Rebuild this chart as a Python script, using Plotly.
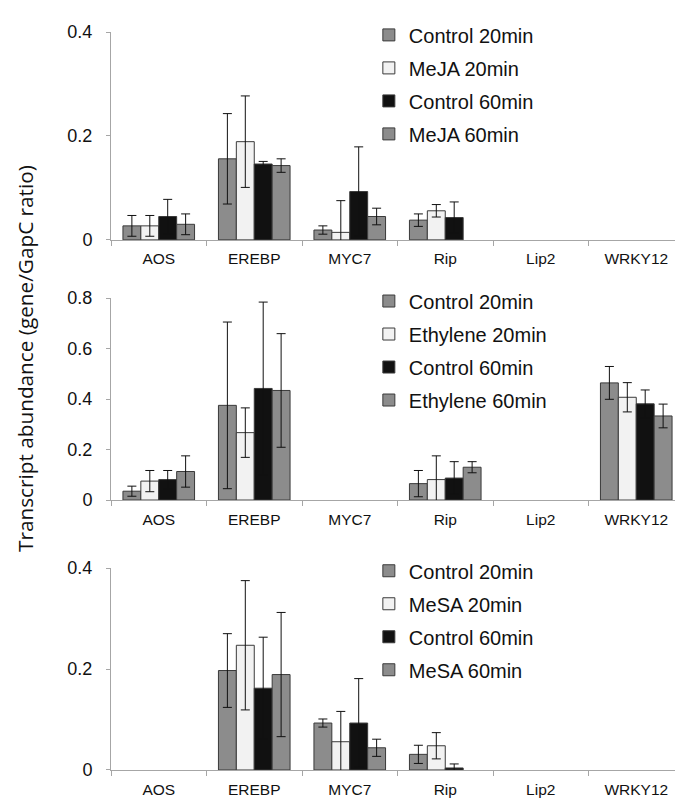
import plotly.graph_objects as go

genes = ["AOS", "EREBP", "MYC7", "Rip", "Lip2", "WRKY12"]

# panel 1 - MeJA
meja_names = ["Control 20min", "MeJA 20min", "Control 60min", "MeJA 60min"]
meja_vals = [
    [0.027, 0.156, 0.019, 0.038, 0, 0],
    [0.027, 0.189, 0.0145, 0.056, 0, 0],
    [0.045, 0.146, 0.093, 0.043, 0, 0],
    [0.030, 0.143, 0.045, 0, 0, 0],
]
meja_err = [
    [0.020, 0.087, 0.008, 0.012, 0, 0],
    [0.020, 0.088, 0.061, 0.012, 0, 0],
    [0.033, 0.005, 0.086, 0.030, 0, 0],
    [0.020, 0.013, 0.016, 0, 0, 0],
]

# panel 2 - Ethylene
eth_names = ["Control 20min", "Ethylene 20min", "Control 60min", "Ethylene 60min"]
eth_vals = [
    [0.035, 0.375, 0, 0.065, 0, 0.464],
    [0.075, 0.267, 0, 0.081, 0, 0.407],
    [0.081, 0.442, 0, 0.087, 0, 0.381],
    [0.113, 0.434, 0, 0.130, 0, 0.333],
]
eth_err = [
    [0.020, 0.330, 0, 0.052, 0, 0.065],
    [0.042, 0.098, 0, 0.094, 0, 0.058],
    [0.036, 0.342, 0, 0.065, 0, 0.055],
    [0.062, 0.225, 0, 0.022, 0, 0.047],
]

# panel 3 - MeSA
mesa_names = ["Control 20min", "MeSA 20min", "Control 60min", "MeSA 60min"]
mesa_vals = [
    [0, 0.197, 0.093, 0.031, 0, 0],
    [0, 0.247, 0.056, 0.048, 0, 0],
    [0, 0.162, 0.093, 0.004, 0, 0],
    [0, 0.189, 0.044, 0, 0, 0],
]
mesa_err = [
    [0, 0.073, 0.008, 0.018, 0, 0],
    [0, 0.128, 0.060, 0.026, 0, 0],
    [0, 0.101, 0.088, 0.008, 0, 0],
    [0, 0.123, 0.017, 0, 0, 0],
]

y_ranges = [0.4, 0.8, 0.4]

fills = ["#8c8c8c", "#f2f2f2", "#111111", "#8c8c8c"]
FONT = "Arial, Liberation Sans, sans-serif"

fig = go.Figure()

panels = [
    (meja_names, meja_vals, meja_err),
    (eth_names, eth_vals, eth_err),
    (mesa_names, mesa_vals, mesa_err),
]
for p, (names, vals, errs) in enumerate(panels):
    sfx = "" if p == 0 else str(p + 1)
    for i in range(4):
        # zero values are left empty (nothing drawn on the baseline)
        yv = [v if v > 0 else None for v in vals[i]]
        err = [e if e > 0 else None for e in errs[i]]
        fig.add_trace(go.Bar(
            x=genes, y=yv, name=names[i],
            xaxis="x" + sfx, yaxis="y" + sfx,
            legend="legend" + sfx, legendgroup=f"p{p}s{i}",
            offsetgroup=str(i),
            marker=dict(color=fills[i], line=dict(color="#3a3a3a", width=1)),
            error_y=dict(type="data", array=err, visible=True,
                         color="#111111", thickness=1, width=4.5),
        ))

domains = [[0.7183, 1.0], [0.3658, 0.6395], [0.0, 0.2737]]
legend_y = [0.929, 0.5684, 0.2029]

layout = dict(
    width=683, height=798,
    paper_bgcolor="white", plot_bgcolor="white",
    margin=dict(l=103, r=7, t=13, b=36),
    barmode="group", bargap=0.25, bargroupgap=0,
    font=dict(family=FONT, color="#111111"),
)
for p in range(3):
    sfx = "" if p == 0 else str(p + 1)
    layout["xaxis" + sfx] = dict(
        domain=[0, 1], anchor="y" + sfx, type="category",
        categoryorder="array", categoryarray=genes,
        showline=True, linecolor="#a6a6a6", linewidth=1,
        ticks="outside", tickson="boundaries", ticklen=5, tickcolor="#a6a6a6",
        showgrid=False, tickfont=dict(size=15.5, family=FONT),
        ticklabelstandoff=5,
    )
    layout["yaxis" + sfx] = dict(
        domain=domains[p], anchor="x" + sfx,
        range=[0, y_ranges[p]], dtick=0.2,
        showline=True, linecolor="#a6a6a6", linewidth=1,
        ticks="outside", ticklen=4, tickcolor="#a6a6a6",
        showgrid=False, zeroline=False,
        tickfont=dict(size=18, family=FONT), ticklabelstandoff=10,
    )
    layout["legend" + sfx] = dict(
        x=0.450, xanchor="left", y=legend_y[p], yanchor="middle",
        font=dict(size=20, family=FONT), tracegroupgap=4,
        bgcolor="rgba(0,0,0,0)",
    )

fig.update_layout(**layout)

fig.add_annotation(
    text="Transcript abundance (gene/GapC ratio)",
    xref="paper", yref="paper", x=-0.15, y=0.557,
    xanchor="center", yanchor="middle", textangle=-90, showarrow=False,
    font=dict(size=20.75, family="Open Sans, sans-serif", color="#111111"),
)

fig.write_html("out.html")
